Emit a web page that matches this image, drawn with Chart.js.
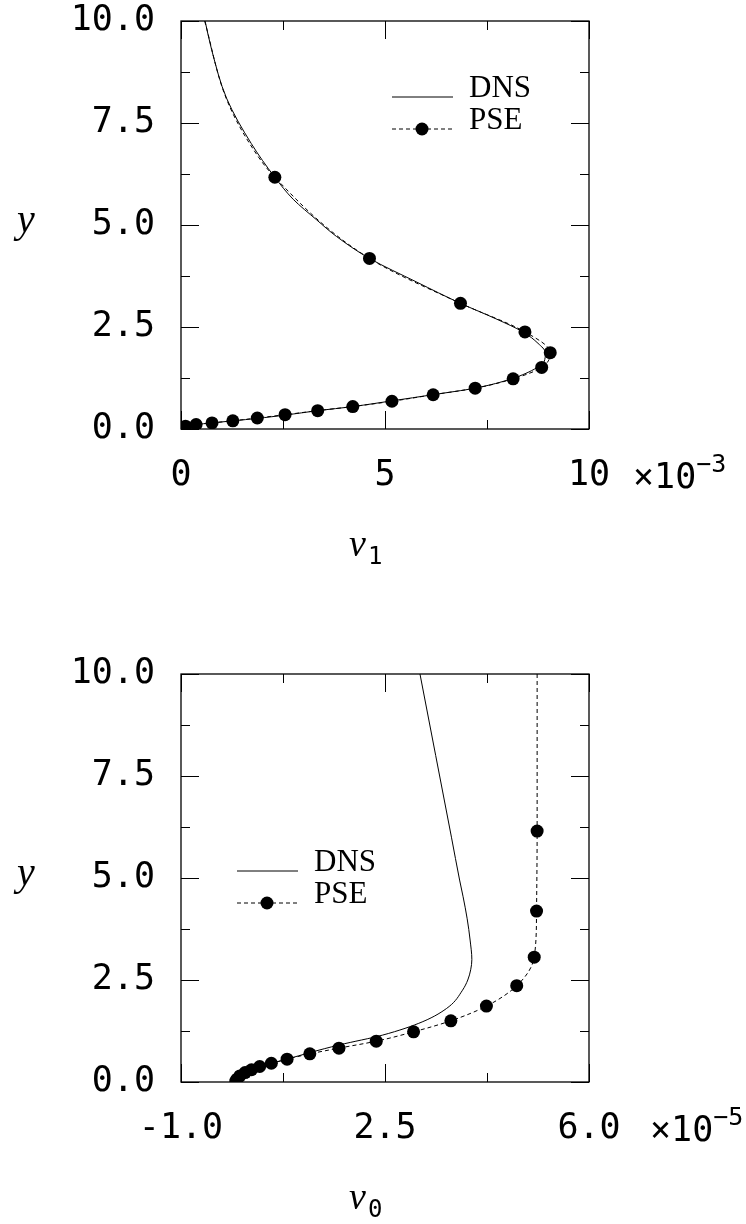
<!DOCTYPE html>
<html>
<head>
<meta charset="utf-8">
<script src="https://cdn.jsdelivr.net/npm/chart.js@4.4.1/dist/chart.umd.min.js"></script>
<style>
  html, body { margin: 0; padding: 0; background: #fff; overflow: hidden; }
  #wrap { position: relative; width: 746px; height: 1224px; overflow: hidden; }
  .box { position: absolute; left: 0; width: 746px; height: 612px; }
</style>
</head>
<body>
<div id="wrap">
  <div class="box" style="top:-41px"><canvas id="top" width="746" height="612"></canvas></div>
  <div class="box" style="top:612px"><canvas id="bottom" width="746" height="612"></canvas></div>
</div>
<script>
// top panel: v1 (x 1e-3) against y
const topDnsY = [10, 9.3, 8.1, 7.0, 6.17, 5.63, 5.13, 4.72, 4.18, 3.6, 3.08, 2.7, 2.38, 2.1, 1.87, 1.65, 1.5, 1.23, 1.0, 0.84, 0.69, 0.55, 0.45, 0.34, 0.26, 0.20, 0.15, 0.11, 0.06, 0];
const topDnsV = [0.59, 0.75, 1.12, 1.72, 2.30, 2.75, 3.32, 3.81, 4.62, 5.78, 6.85, 7.72, 8.38, 8.75, 8.93, 8.90, 8.72, 8.10, 7.20, 6.17, 5.17, 4.21, 3.36, 2.54, 1.87, 1.27, 0.76, 0.37, 0.12, 0];
const topPseTailY = [10, 8.1, 7.0];
const topPseTailV = [0.58, 1.11, 1.68];
const topPseY = [6.17, 4.18, 3.08, 2.38, 1.87, 1.51, 1.23, 1.00, 0.84, 0.68, 0.55, 0.45, 0.35, 0.27, 0.20, 0.15, 0.11, 0.07];
const topPseV = [2.30, 4.62, 6.85, 8.43, 9.05, 8.84, 8.14, 7.21, 6.18, 5.17, 4.21, 3.35, 2.55, 1.87, 1.27, 0.76, 0.37, 0.11];

// bottom panel: v0 (x 1e-5) against y
const botDnsY = [10, 8, 6, 4.95, 4.54, 4.0, 3.48, 3.0, 2.75, 2.5, 2.25, 1.85, 1.48, 1.15, 0.91, 0.72, 0.56, 0.45, 0.38, 0.29, 0.23, 0.15, 0.07, 0];
const botDnsV = [3.10, 3.37, 3.64, 3.78, 3.84, 3.91, 3.96, 3.99, 3.97, 3.92, 3.83, 3.60, 3.15, 2.46, 1.72, 1.21, 0.82, 0.54, 0.35, 0.21, 0.10, 0.01, -0.04, -0.07];
const botPseTailY = [10];
const botPseTailV = [5.11];
const botPseY = [6.15, 4.19, 3.06, 2.36, 1.86, 1.50, 1.23, 1.00, 0.83, 0.69, 0.56, 0.46, 0.38, 0.30, 0.23, 0.15, 0.07, 0.02];
const botPseV = [5.11, 5.10, 5.06, 4.76, 4.24, 3.63, 2.99, 2.35, 1.71, 1.21, 0.82, 0.55, 0.35, 0.21, 0.10, 0.01, -0.04, -0.06];

// axes
const yTicks = [0, 1.25, 2.5, 3.75, 5, 6.25, 7.5, 8.75, 10];
const topXTicks = [0, 2.5, 5, 7.5, 10];
const topXLabels = ["0", "5", "10"];
const botXTicks = [-1, 0.75, 2.5, 4.25, 6];
const botXLabels = ["-1.0", "2.5", "6.0"];
const labels = ["DNS", "PSE"];

const tickFont = "DejaVu Sans Mono";

function pts(ys, vs) {
  return ys.map((y, i) => ({ x: vs[i], y: y }));
}

const frame = {
  id: "frame",
  afterDatasetsDraw(chart, args, o) {
    const { ctx, chartArea: a, scales: { x, y } } = chart;
    ctx.save();
    ctx.strokeStyle = "#000";
    ctx.lineWidth = 1.3;
    ctx.strokeRect(a.left, a.top, a.right - a.left, a.bottom - a.top);
    ctx.lineWidth = 1;
    ctx.beginPath();
    o.xTicks.forEach((v, i) => {
      const len = i % 2 ? 9 : 18;
      const px = Math.round(x.getPixelForValue(v)) + 0.5;
      ctx.moveTo(px, a.bottom); ctx.lineTo(px, a.bottom - len);
      ctx.moveTo(px, a.top); ctx.lineTo(px, a.top + len);
    });
    yTicks.forEach((v, i) => {
      const len = i % 2 ? 9 : 18;
      const py = Math.round(y.getPixelForValue(v)) + 0.5;
      ctx.moveTo(a.left, py); ctx.lineTo(a.left + len, py);
      ctx.moveTo(a.right, py); ctx.lineTo(a.right - len, py);
    });
    ctx.stroke();

    // axis titles
    ctx.fillStyle = "#000";
    ctx.textAlign = "center";
    ctx.textBaseline = "middle";
    ctx.font = "italic 40px 'Liberation Serif'";
    ctx.fillText("y", 26, y.getPixelForValue(5) - 4);

    ctx.textBaseline = "alphabetic";
    ctx.textAlign = "left";
    ctx.font = "italic 38px 'Liberation Serif'";
    ctx.fillText("v", o.titleX, a.bottom + 127);
    ctx.font = "24px " + tickFont;
    ctx.fillText(o.sub, o.titleX + 19, a.bottom + 135);

    // exponent
    ctx.font = "35px " + tickFont;
    ctx.fillText("\u00d710", o.expX, a.bottom + 59);
    const w = ctx.measureText("\u00d710").width;
    ctx.font = "25px " + tickFont;
    ctx.fillText(o.exp, o.expX + w, a.bottom + 43);

    // legend
    const L = o.legend;
    chart.data.datasets.forEach((ds, i) => {
      const ty = L.y + i * L.gap;
      const ly = ty + 8;
      ctx.beginPath();
      ctx.setLineDash(ds.borderDash || []);
      ctx.lineWidth = 1;
      ctx.moveTo(L.x, ly); ctx.lineTo(L.x + 61, ly);
      ctx.stroke();
      ctx.setLineDash([]);
      if (ds.legendDot) {
        ctx.beginPath();
        ctx.arc(L.x + 30, ly, 6.5, 0, Math.PI * 2);
        ctx.fill();
      }
      ctx.font = "31px 'Liberation Serif'";
      ctx.textBaseline = "middle";
      ctx.fillText(ds.label, L.x + 77, ty);
      ctx.textBaseline = "alphabetic";
    });
    ctx.restore();
  }
};

function makeChart(id, dns, pse, tailLen, xMin, xMax, xStep, xLabels, o) {
  const padTop = 62;
  return new Chart(document.getElementById(id), {
    type: "scatter",
    data: {
      datasets: [
        {
          label: labels[0],
          data: dns,
          showLine: true,
          borderColor: "#000",
          borderWidth: 1,
          cubicInterpolationMode: "monotone",
          pointRadius: 0
        },
        {
          label: labels[1],
          data: pse,
          showLine: true,
          borderColor: "#000",
          borderWidth: 1,
          borderDash: [4, 3],
          cubicInterpolationMode: "monotone",
          backgroundColor: "#000",
          pointBackgroundColor: "#000",
          pointBorderWidth: 0,
          pointRadius: ctx => ctx.dataIndex < tailLen ? 0 : 6.5,
          legendDot: true
        }
      ]
    },
    options: {
      responsive: false,
      animation: false,
      indexAxis: "y",
      layout: { padding: { left: 0, right: 157, top: padTop, bottom: 612 - padTop - 408 - 80 } },
      plugins: { legend: { display: false }, tooltip: { enabled: false }, frame: o },
      scales: {
        x: {
          type: "linear",
          axis: "x",
          position: "bottom",
          min: xMin, max: xMax,
          afterFit: s => { s.height = 80; },
          afterBuildTicks: s => { s.ticks = [xMin, xMin + xStep, xMax].map(v => ({ value: v })); },
          grid: { display: false, drawTicks: false },
          border: { display: false },
          ticks: {
            padding: 29,
            color: "#000",
            font: { family: tickFont, size: 35, lineHeight: 1 },
            maxRotation: 0,
            callback: (v, i) => xLabels[i]
          }
        },
        y: {
          type: "linear",
          axis: "y",
          position: "left",
          min: 0, max: 10,
          afterFit: s => { s.width = 181; },
          grid: { display: false, drawTicks: false },
          border: { display: false },
          ticks: {
            stepSize: 2.5,
            padding: 26,
            color: "#000",
            font: { family: tickFont, size: 35, lineHeight: 1 },
            callback: v => v.toFixed(1)
          }
        }
      }
    },
    plugins: [frame]
  });
}

makeChart("top",
  pts(topDnsY, topDnsV),
  pts(topPseTailY.concat(topPseY), topPseTailV.concat(topPseV)),
  topPseTailY.length, 0, 10, 5, topXLabels,
  { xTicks: topXTicks, sub: "1", exp: "\u22123", expX: 633, titleX: 349,
    legend: { x: 392, y: 130, gap: 32 } });

makeChart("bottom",
  pts(botDnsY, botDnsV),
  pts(botPseTailY.concat(botPseY), botPseTailV.concat(botPseV)),
  botPseTailY.length, -1, 6, 3.5, botXLabels,
  { xTicks: botXTicks, sub: "0", exp: "\u22125", expX: 650, titleX: 349,
    legend: { x: 237, y: 251, gap: 32 } });
</script>
</body>
</html>
